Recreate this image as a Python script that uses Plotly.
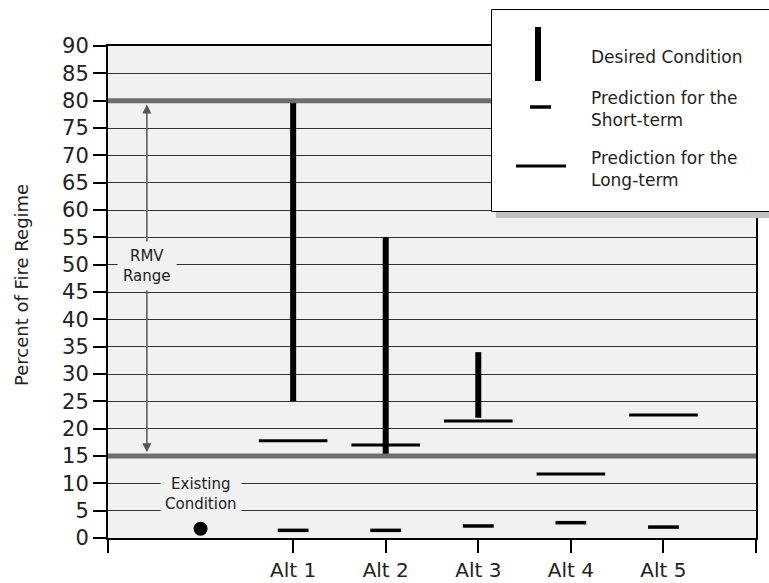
import plotly.graph_objects as go

# ---- data -----------------------------------------------------------------
alternatives = ["Alt 1", "Alt 2", "Alt 3", "Alt 4", "Alt 5"]
alt_positions = [2, 3, 4, 5, 6]
desired_low = [25, 15, 22, None, None]
desired_high = [80, 55, 34, None, None]
short_term = [1.4, 1.4, 2.2, 2.8, 2.0]
long_term = [17.8, 17.0, 21.4, 11.7, 22.5]
existing_position = 1
existing_value = 1.7
rmv_low, rmv_high = 15, 80
y_ticks = list(range(0, 95, 5))

# ---- geometry helpers -----------------------------------------------------
W, H = 769, 583
ML, MR, MT, MB = 108, 13, 46, 45
PW, PH = W - ML - MR, H - MT - MB


def px_x(p):
    return (p - ML) / PW


def px_y(p):
    return (H - MB - p) / PH


FONT = "DejaVu Sans"
PLOT_BG = "#f1f1f1"

fig = go.Figure()

# desired condition: thick vertical bars
dx, dy = [], []
for pos, lo, hi in zip(alt_positions, desired_low, desired_high):
    if lo is None or hi is None:
        continue
    dx += [pos, pos, None]
    dy += [lo, hi, None]
fig.add_trace(go.Scatter(x=dx, y=dy, mode="lines",
                         line=dict(color="black", width=6),
                         hoverinfo="skip", showlegend=False))

# long-term predictions
fig.add_trace(go.Scatter(x=alt_positions, y=long_term, mode="markers",
                         marker=dict(symbol="line-ew", size=49,
                                     line=dict(color="black", width=3)),
                         showlegend=False))
# short-term predictions
fig.add_trace(go.Scatter(x=alt_positions, y=short_term, mode="markers",
                         marker=dict(symbol="line-ew", size=22,
                                     line=dict(color="black", width=3.5)),
                         showlegend=False))
# existing condition
fig.add_trace(go.Scatter(x=[existing_position], y=[existing_value],
                         mode="markers",
                         marker=dict(symbol="circle", size=14, color="black"),
                         showlegend=False))

shapes = []
# RMV range boundaries
for v in (rmv_low, rmv_high):
    shapes.append(dict(type="line", xref="paper", yref="y", x0=0, x1=1,
                       y0=v, y1=v, layer="above",
                       line=dict(color="#6e6e6e", width=5)))

# legend panel with drop shadow
shapes.append(dict(type="rect", xref="paper", yref="paper",
                   x0=px_x(496), x1=px_x(790), y0=px_y(218), y1=px_y(15),
                   fillcolor="#c0c0c0", line=dict(width=0), layer="above"))
shapes.append(dict(type="rect", xref="paper", yref="paper",
                   x0=px_x(491.5), x1=px_x(785), y0=px_y(211.5), y1=px_y(9.5),
                   fillcolor="white", line=dict(color="black", width=1),
                   layer="above"))
shapes.append(dict(type="line", xref="paper", yref="paper",
                   x0=px_x(538), x1=px_x(538), y0=px_y(27), y1=px_y(81),
                   line=dict(color="black", width=6), layer="above"))
shapes.append(dict(type="line", xref="paper", yref="paper",
                   x0=px_x(530), x1=px_x(551), y0=px_y(107), y1=px_y(107),
                   line=dict(color="black", width=3.5), layer="above"))
shapes.append(dict(type="line", xref="paper", yref="paper",
                   x0=px_x(516), x1=px_x(566), y0=px_y(166), y1=px_y(166),
                   line=dict(color="black", width=3), layer="above"))

annotations = []
# RMV double arrow
arrow_x = 0.42
for tip, tail in ((rmv_high - 0.7, 50), (rmv_low + 0.7, 50)):
    annotations.append(dict(x=arrow_x, y=tip, ax=arrow_x, ay=tail,
                            xref="x", yref="y", axref="x", ayref="y",
                            text="", showarrow=True, arrowhead=2,
                            arrowsize=1.2, arrowwidth=1.5,
                            arrowcolor="#555555"))
annotations.append(dict(x=arrow_x, y=49.8, xref="x", yref="y",
                        text="RMV<br>Range", showarrow=False,
                        font=dict(family=FONT, size=15, color="#222"),
                        bgcolor=PLOT_BG, borderpad=5))
annotations.append(dict(x=existing_position, y=8.0, xref="x", yref="y",
                        text="Existing<br>Condition", showarrow=False,
                        font=dict(family=FONT, size=15, color="#222"),
                        bgcolor=PLOT_BG, borderpad=4))

# y-axis title
annotations.append(dict(x=px_x(21), y=px_y(285), xref="paper", yref="paper",
                        xanchor="center", yanchor="middle",
                        text="Percent of Fire Regime", textangle=-90,
                        showarrow=False,
                        font=dict(family=FONT, size=18, color="#222")))

# legend text
legend_texts = [("Desired Condition", 57),
                ("Prediction for the<br>Short-term", 109),
                ("Prediction for the<br>Long-term", 169)]
for txt, yy in legend_texts:
    annotations.append(dict(x=px_x(589), y=px_y(yy), xref="paper",
                            yref="paper", xanchor="left", yanchor="middle",
                            align="left", text=txt, showarrow=False,
                            font=dict(family=FONT, size=17, color="#222")))

fig.update_layout(
    width=W, height=H,
    margin=dict(l=ML, r=MR, t=MT, b=MB, pad=0, autoexpand=False),
    paper_bgcolor="white", plot_bgcolor=PLOT_BG,
    shapes=shapes, annotations=annotations,
    showlegend=False,
    xaxis=dict(range=[0, 7], tickvals=[0] + alt_positions + [7],
               ticktext=[""] + alternatives + [""],
               ticks="outside", ticklen=13, tickwidth=1.5, tickcolor="black",
               showgrid=False, zeroline=False, automargin=False,
               showline=True, linewidth=2, linecolor="black", mirror=True,
               tickfont=dict(family=FONT, size=20, color="#222")),
    yaxis=dict(range=[0, 90], tickvals=y_ticks,
               ticks="outside", ticklen=13, tickwidth=1.5, tickcolor="black",
               showgrid=True, gridcolor="#333333", gridwidth=1,
               zeroline=False, automargin=False,
               showline=True, linewidth=2, linecolor="black", mirror=True,
               tickfont=dict(family=FONT, size=21, color="#222")),
)

fig.write_html("out.html")
